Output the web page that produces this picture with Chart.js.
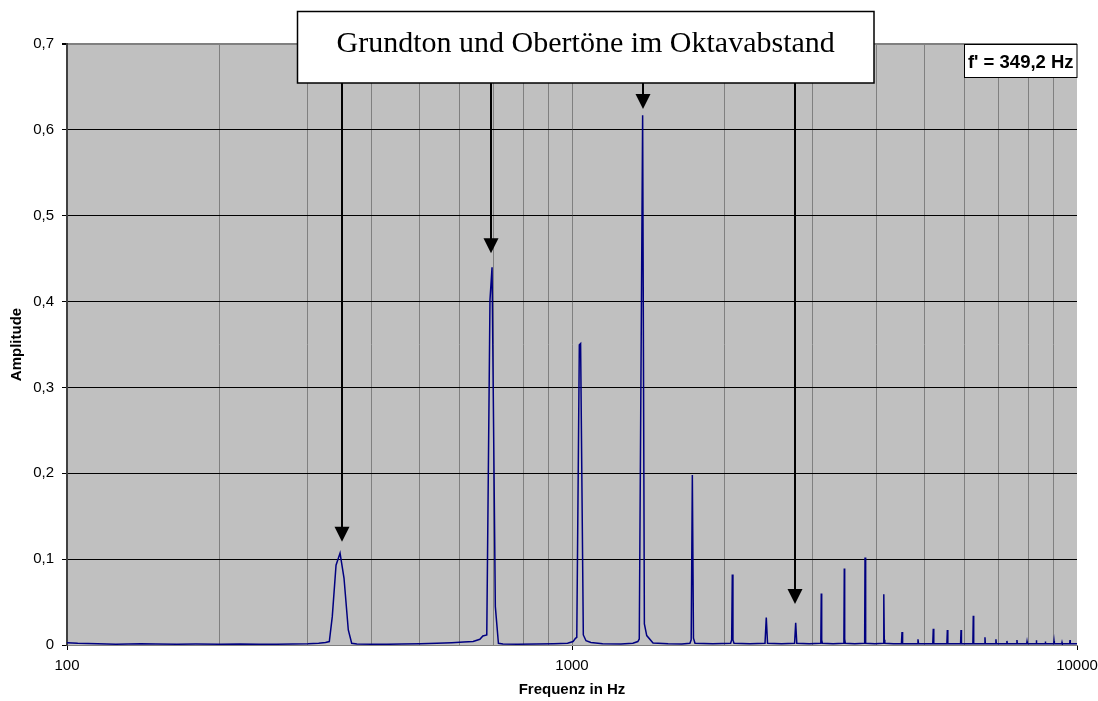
<!DOCTYPE html>
<html>
<head>
<meta charset="utf-8">
<script src="https://cdn.jsdelivr.net/npm/chart.js@4/dist/chart.umd.min.js"></script>
<style>
  html, body { margin: 0; padding: 0; background: #ffffff; }
  #wrap { width: 1098px; height: 701px; position: relative; }
</style>
</head>
<body>
<div id="wrap"><canvas id="spec" width="1098" height="701"></canvas></div>
<script>
// Amplitude spectrum of a tone (fundamental f' and its overtones), log frequency axis.
const freqHz = [
  100, 105, 115, 125, 140, 150, 165, 180, 200, 220, 240, 260, 280, 300, 315, 325,
  330.7, 335.2, 341.0, 347.3, 353.6, 360.6, 366.2,
  375, 400, 430, 460, 500, 540, 578, 610, 637, 657, 666, 678,
  688, 694.5, 705, 715,
  730, 780, 850, 920, 980, 1005, 1016, 1022,
  1034, 1040, 1053, 1066,
  1090, 1150, 1250, 1320, 1350,
  1359, 1380, 1391, 1406, 1447,
  1550, 1650, 1712,
  1722, 1731, 1740, 1752,
  1900,
  2061, 2071, 2077, 2083, 2093,
  2250,
  2411, 2425, 2439,
  2600,
  2759, 2773, 2787,
  2950,
  3100, 3110, 3116, 3122, 3132,
  3290,
  3445, 3455, 3461, 3467, 3477,
  3630,
  3788, 3798, 3804, 3810, 3820,
  3980,
  4131, 4141, 4147, 4153, 4163,
  4330,
  4491, 4503, 4515,
  4670,
  4831, 4843, 4855,
  5020,
  5181, 5193, 5205,
  5370,
  5525, 5537, 5549,
  5710,
  5881, 5893, 5905,
  6060,
  6220, 6232, 6244,
  6400,
  6561, 6573, 6585,
  6740,
  6898, 6910, 6922,
  7090,
  7253, 7265, 7277,
  7430,
  7593, 7605, 7617,
  7780,
  7950, 7962, 7974,
  8130,
  8296, 8308, 8320,
  8480,
  8644, 8656, 8668,
  8830,
  8994, 9006, 9018,
  9170,
  9327, 9339, 9351,
  9510,
  9674, 9686, 9698,
  9850, 10000
];

const amplitude = [
  0.0027, 0.002, 0.0015, 0.001, 0.0015, 0.0012, 0.001, 0.0012, 0.001, 0.0012, 0.0008, 0.001, 0.0012, 0.0015, 0.002, 0.0028,
  0.004, 0.033, 0.093, 0.107, 0.078, 0.0175, 0.002,
  0.0012, 0.001, 0.0008, 0.0012, 0.0015, 0.002, 0.0027, 0.0035, 0.004, 0.0066, 0.0105, 0.0117,
  0.402, 0.44, 0.0447, 0.002,
  0.0012, 0.001, 0.0012, 0.0015, 0.002, 0.004, 0.0078, 0.009,
  0.3495, 0.351, 0.0117, 0.005,
  0.003, 0.0015, 0.0012, 0.002, 0.004,
  0.007, 0.617, 0.0245, 0.011, 0.0023,
  0.0015, 0.0012, 0.002,
  0.006, 0.198, 0.008, 0.002,
  0.0015,
  0.002, 0.006, 0.082, 0.006, 0.002,
  0.0015,
  0.002, 0.032, 0.002,
  0.0015,
  0.002, 0.026, 0.002,
  0.0015,
  0.002, 0.006, 0.060, 0.006, 0.002,
  0.0015,
  0.002, 0.007, 0.089, 0.007, 0.002,
  0.0015,
  0.002, 0.008, 0.102, 0.008, 0.002,
  0.0015,
  0.002, 0.006, 0.059, 0.006, 0.002,
  0.0015,
  0.0015, 0.015, 0.0015,
  0.0015,
  0.0015, 0.0066, 0.0015,
  0.0015,
  0.0015, 0.019, 0.0015,
  0.0015,
  0.0015, 0.0175, 0.0015,
  0.0015,
  0.0015, 0.0175, 0.0015,
  0.0015,
  0.0015, 0.034, 0.0015,
  0.0015,
  0.0015, 0.009, 0.0015,
  0.0015,
  0.0015, 0.0066, 0.0015,
  0.0015,
  0.0015, 0.0047, 0.0015,
  0.0015,
  0.0015, 0.0058, 0.0015,
  0.0015,
  0.0015, 0.004, 0.0015,
  0.0015,
  0.0015, 0.0055, 0.0015,
  0.0015,
  0.0015, 0.004, 0.0015,
  0.0015,
  0.0015, 0.0047, 0.0015,
  0.0015,
  0.0015, 0.003, 0.0015,
  0.0015,
  0.0015, 0.0058, 0.0015,
  0.0015, 0.0015
];

// Axis ticks
const xTickValues = [100, 200, 300, 400, 500, 600, 700, 800, 900,
                     1000, 2000, 3000, 4000, 5000, 6000, 7000, 8000, 9000, 10000];
const xLabelValues = [100, 1000, 10000];
const yTickLabels = ['0', '0,1', '0,2', '0,3', '0,4', '0,5', '0,6', '0,7'];

// Texts
const titleText = 'Grundton und Obertöne im Oktavabstand';
const noteText = "f' = 349,2 Hz";
const xTitle = 'Frequenz in Hz';
const yTitle = 'Amplitude';

// Arrows: the frequency each one points at and the amplitude of its tip
const arrowFreqHz = [350.4, 692.2, 1380, 2764];
const arrowTipAmp = [0.1204, 0.4563, 0.6242, 0.0478];

const points = freqHz.map((f, i) => ({ x: f, y: amplitude[i] }));

const plotBackground = {
  id: 'plotBackground',
  beforeDraw(chart) {
    const { ctx, chartArea: a } = chart;
    ctx.save();
    ctx.fillStyle = '#c0c0c0';
    ctx.fillRect(a.left, a.top, a.right - a.left, a.bottom - a.top);
    ctx.restore();
  }
};

const arrows = {
  id: 'arrows',
  afterDatasetsDraw(chart) {
    const { ctx, scales: { x, y } } = chart;
    const startY = 83;
    ctx.save();
    ctx.strokeStyle = '#000';
    ctx.fillStyle = '#000';
    ctx.lineWidth = 2;
    arrowFreqHz.forEach((f, i) => {
      const px = Math.round(x.getPixelForValue(f));
      const tip = y.getPixelForValue(arrowTipAmp[i]);
      const headLen = 15, headHalf = 7.5;
      ctx.beginPath();
      ctx.moveTo(px, startY);
      ctx.lineTo(px, tip - headLen + 1);
      ctx.stroke();
      ctx.beginPath();
      ctx.moveTo(px - headHalf, tip - headLen);
      ctx.lineTo(px + headHalf, tip - headLen);
      ctx.lineTo(px, tip);
      ctx.closePath();
      ctx.fill();
    });
    ctx.restore();
  },
  afterDraw(chart) {
    const { ctx, chartArea: a } = chart;
    ctx.save();
    // title box
    ctx.fillStyle = '#fff';
    ctx.fillRect(297.5, 11.5, 576.5, 71.5);
    ctx.strokeStyle = '#000';
    ctx.lineWidth = 1.5;
    ctx.strokeRect(297.5, 11.5, 576.5, 71.5);
    ctx.fillStyle = '#000';
    ctx.font = '30px "Liberation Serif", "Times New Roman", serif';
    ctx.textAlign = 'center';
    ctx.textBaseline = 'alphabetic';
    ctx.fillText(titleText, 585.7, 51.7);
    // frequency note box
    const bx = 964.5, by = a.top + 0.5, bw = a.right - bx, bh = 33;
    ctx.fillStyle = '#fff';
    ctx.fillRect(bx, by, bw, bh);
    ctx.lineWidth = 1;
    ctx.strokeRect(bx, by, bw, bh);
    ctx.fillStyle = '#000';
    ctx.font = 'bold 18.5px "Liberation Sans", Arial, sans-serif';
    ctx.fillText(noteText, bx + bw / 2, 68.3);
    ctx.restore();
  }
};

new Chart(document.getElementById('spec'), {
  type: 'line',
  data: {
    datasets: [{
      data: points,
      borderColor: '#000080',
      borderWidth: 1.5,
      pointRadius: 0,
      tension: 0,
      fill: false
    }]
  },
  options: {
    responsive: false,
    animation: false,
    events: [],
    layout: { padding: { left: 0, top: 44, right: 21, bottom: 0 } },
    plugins: {
      legend: { display: false },
      title: { display: false },
      tooltip: { enabled: false }
    },
    scales: {
      x: {
        type: 'logarithmic',
        min: 100,
        max: 10000,
        afterBuildTicks(scale) {
          scale.ticks = xTickValues.map(v => ({ value: v, major: xLabelValues.includes(v) }));
        },
        afterFit(scale) {
          scale.height = 56;
          scale.paddingLeft = 0;
          scale.paddingRight = 0;
        },
        ticks: {
          autoSkip: false,
          maxRotation: 0,
          minRotation: 0,
          padding: 7,
          color: '#000',
          font: { family: '"Liberation Sans", Arial, sans-serif', size: 15 },
          callback: (v) => xLabelValues.includes(v) ? String(v) : ''
        },
        grid: {
          color: (c) => (c.tick && (c.tick.value === 100 || c.tick.value === 10000)) ? 'rgba(0,0,0,0)' : '#808080',
          lineWidth: 1,
          tickLength: 5,
          tickColor: (c) => (c.tick && xLabelValues.includes(c.tick.value)) ? '#000' : 'rgba(0,0,0,0)'
        },
        border: { display: true, color: '#808080', width: 1 },
        title: {
          display: true,
          text: xTitle,
          color: '#000',
          font: { family: '"Liberation Sans", Arial, sans-serif', size: 15, weight: 'bold' },
          padding: { top: 0, bottom: 2 }
        }
      },
      y: {
        type: 'linear',
        min: 0,
        max: 0.7,
        afterFit(scale) {
          scale.width = 67;
          scale.paddingTop = 0;
          scale.paddingBottom = 0;
        },
        ticks: {
          stepSize: 0.1,
          padding: 8,
          color: '#000',
          font: { family: '"Liberation Sans", Arial, sans-serif', size: 15 },
          callback: (v, i) => yTickLabels[i]
        },
        grid: {
          color: (c) => c.index === 0 ? 'rgba(0,0,0,0)' : (c.index === 7 ? '#808080' : '#000'),
          lineWidth: (c) => c.index === 7 ? 2 : 1,
          tickLength: 5,
          tickColor: '#000'
        },
        border: { display: true, color: '#404040', width: 2 },
        title: {
          display: true,
          text: yTitle,
          color: '#000',
          font: { family: '"Liberation Sans", Arial, sans-serif', size: 15, weight: 'bold' },
          padding: { top: 8, bottom: 0 }
        }
      }
    }
  },
  plugins: [plotBackground, arrows]
});
</script>
</body>
</html>
